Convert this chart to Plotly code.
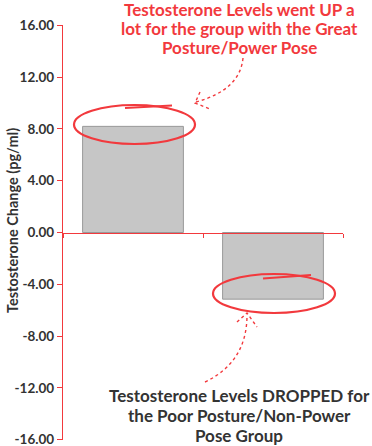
import plotly.graph_objects as go

categories = ["Great Posture/Power Pose", "Poor Posture/Non-Power Pose"]
values = [8.2, -5.15]
tick_vals = [16, 12, 8, 4, 0, -4, -8, -12, -16]
tick_text = ["16.00", "12.00", "8.00", "4.00", "0.00", "-4.00", "-8.00", "-12.00", "-16.00"]
y_title = "Testosterone Change (pg/ml)"
up_lines = ["Testosterone Levels went UP a", "lot for the group with the Great", "Posture/Power Pose"]
down_lines = ["Testosterone Levels DROPPED for", "the Poor Posture/Non-Power", "Pose Group"]

RED = "#f2393d"
DARK = "#333333"
FONT = "Lato"

fig = go.Figure(go.Bar(
    x=categories, y=values, width=0.72,
    marker=dict(color="#c6c6c6", line=dict(color="#9a9a9a", width=1)),
))

fig.update_layout(
    width=372, height=446,
    margin=dict(l=63, r=29, t=25, b=6),
    paper_bgcolor="white", plot_bgcolor="white",
    showlegend=False,
    font=dict(family=FONT, color=DARK),
    xaxis=dict(
        type="category", showticklabels=False, showgrid=False,
        showline=True, linecolor=RED, linewidth=1.3,
        ticks="outside", tickson="boundaries", ticklen=4, tickcolor=RED,
        anchor="free", position=0.5, zeroline=False, automargin=False,
    ),
    yaxis=dict(
        range=[-16.03, 16.03], tickvals=tick_vals, ticktext=tick_text,
        showgrid=False, zeroline=False, automargin=False,
        showline=True, linecolor=RED, linewidth=1.3,
        ticks="outside", ticklen=5, tickcolor=RED,
        ticklabeloverflow="allow",
        tickfont=dict(size=13.5, family=FONT, color=DARK, weight=700),
    ),
)

def px(xp):
    return (xp - 63) / 280.0

def py(yp):
    return (440 - yp) / 415.0

fig.add_annotation(
    text=y_title, xref="paper", yref="paper", x=px(12), y=py(221),
    xanchor="center", yanchor="middle", showarrow=False, textangle=-90,
    font=dict(size=14.5, color=DARK, family=FONT, weight=700),
)
for line, yc in zip(up_lines, [10, 28.5, 47.5]):
    fig.add_annotation(
        text=line, xref="paper", yref="paper", x=px(239), y=py(yc),
        xanchor="center", yanchor="middle", showarrow=False,
        font=dict(size=17, color=RED, family=FONT, weight=700),
    )
for line, yc in zip(down_lines, [395.5, 415.5, 435.5]):
    fig.add_annotation(
        text=line, xref="paper", yref="paper", x=px(239), y=py(yc),
        xanchor="center", yanchor="middle", showarrow=False,
        font=dict(size=17, color=DARK, family=FONT, weight=700),
    )

# hand-drawn style ellipses
fig.add_shape(type="circle", xref="paper", yref="paper",
              x0=px(74), x1=px(195), y0=py(144), y1=py(105),
              line=dict(color=RED, width=2.2))
fig.add_shape(type="line", xref="paper", yref="paper",
              x0=px(125), x1=px(172), y0=py(108), y1=py(105.5),
              line=dict(color=RED, width=2))
fig.add_shape(type="circle", xref="paper", yref="paper",
              x0=px(213), x1=px(335), y0=py(313), y1=py(274),
              line=dict(color=RED, width=2.2))
fig.add_shape(type="line", xref="paper", yref="paper",
              x0=px(263), x1=px(311), y0=py(278.5), y1=py(275),
              line=dict(color=RED, width=2))

# dotted curved arrows
p1 = "M {},{} Q {},{} {},{}".format(px(243), py(58), px(240), py(90), px(196), py(102))
fig.add_shape(type="path", xref="paper", yref="paper", path=p1,
              line=dict(color=RED, width=1.4, dash="dot"))
fig.add_shape(type="path", xref="paper", yref="paper",
              path="M {},{} L {},{} L {},{}".format(px(200), py(92), px(195), py(103), px(210), py(109)),
              line=dict(color=RED, width=1.4, dash="dot"))

p2 = "M {},{} Q {},{} {},{}".format(px(205), py(382), px(247), py(362), px(247), py(315))
fig.add_shape(type="path", xref="paper", yref="paper", path=p2,
              line=dict(color=RED, width=1.4, dash="dot"))
fig.add_shape(type="path", xref="paper", yref="paper",
              path="M {},{} L {},{} L {},{}".format(px(237), py(322), px(247), py(313), px(257), py(327)),
              line=dict(color=RED, width=1.4, dash="dot"))

fig.write_html("out.html", config={"displayModeBar": False},
               post_script="document.body.style.margin='0';")
